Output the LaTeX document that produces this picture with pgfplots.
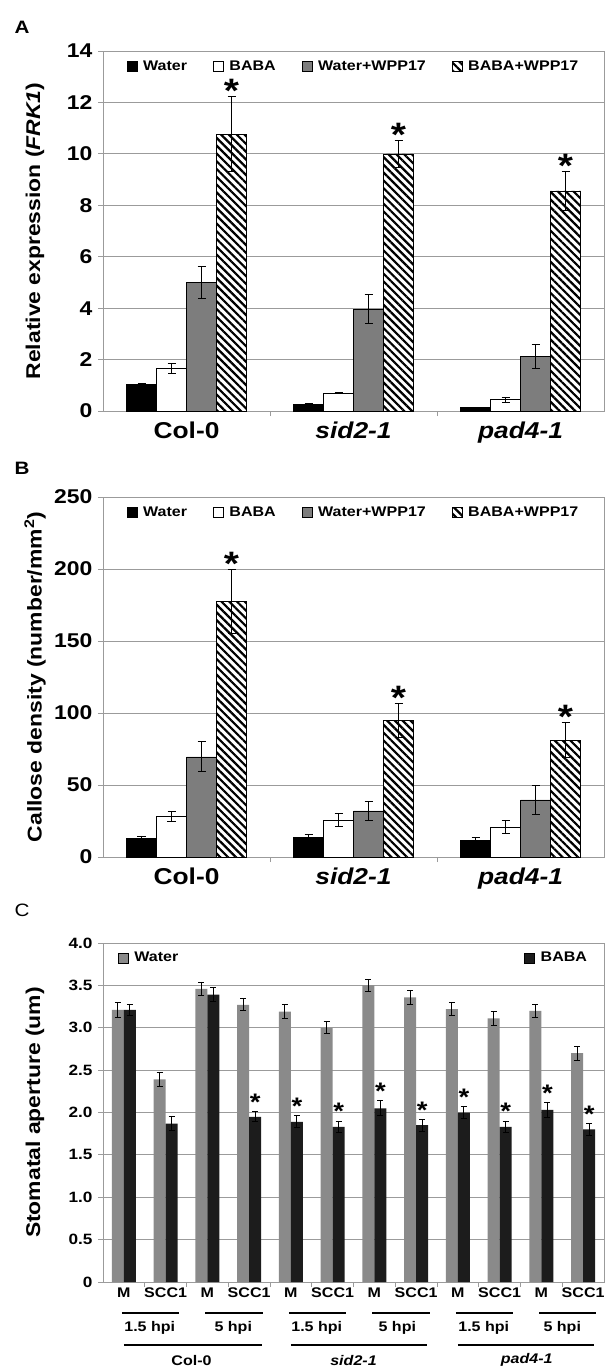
\documentclass[border=0pt]{standalone}
\usepackage{fontspec}
\setmainfont{Liberation Sans}[FakeStretch=1.15]
\usepackage{pgfplots}
\pgfplotsset{compat=1.18}
\usepackage{pgfplotstable}
\usetikzlibrary{patterns.meta}
\definecolor{gridc}{RGB}{155,155,155}
\definecolor{barg}{RGB}{125,125,125}
\definecolor{cgray}{RGB}{138,138,138}
\definecolor{cblack}{RGB}{28,28,28}
\newcommand{\fs}[1]{\fontsize{#1}{#1}\selectfont\bfseries}

\pgfplotstableread{
x water werr baba berr ww wwerr bw bwerr
0 1.03 0.03 1.65 0.20 5.00 0.63 10.77 1.45
1 0.27 0.01 0.71 0.02 3.96 0.57 10.00 0.53
2 0.14 0.01 0.44 0.10 2.12 0.47 8.56 0.75
}\dataA
\pgfplotstableread{
x water werr baba berr ww wwerr bw bwerr
0 12.8 1.8 28.0 3.5 69.6 10.5 177.4 22.0
1 13.5 2.2 25.8 4.7 32.0 6.5 94.7 12.0
2 11.6 1.9 20.9 4.5 39.7 10.3 81.2 12.0
}\dataB
\pgfplotstableread{
x water werr baba berr
0 3.21 0.09 3.21 0.07
1 2.39 0.08 1.87 0.08
2 3.46 0.08 3.39 0.08
3 3.27 0.07 1.95 0.06
4 3.19 0.08 1.89 0.07
5 3.00 0.07 1.83 0.07
6 3.50 0.07 2.05 0.09
7 3.36 0.08 1.85 0.07
8 3.22 0.08 2.00 0.07
9 3.11 0.08 1.83 0.07
10 3.20 0.08 2.03 0.09
11 2.70 0.08 1.80 0.07
}\dataC

\pgfplotsset{
  sqleg/.style={legend image code/.code={\draw[##1] (0bp,-5bp) rectangle (10bp,5bp);}},
  eb/.style={error bars/.cd, y dir=both, y explicit,
     error mark options={rotate=90, black, mark size=#1, line width=0.9bp},
     error bar style={black, line width=0.9bp}},
  base/.style={
    scale only axis, width=501bp,
    axis line style={gridc, line width=0.9bp},
    ymajorgrids, grid style={gridc, line width=0.9bp},
    tick style={gridc, line width=0.9bp},
    tick align=outside, major tick length=0pt, minor tick length=5bp,
    xtick pos=bottom, ytick pos=left,
    ybar=0pt,
    /pgf/number format/assume math mode=true,
    clip=false,
    ylabel style={at={(axis description cs:-0.1357,0.5)}, anchor=center},
  },
  abstyle/.style={base, height=360bp, bar width=30bp,
    xmin=-0.5, xmax=2.5, xtick={0,1,2},
    minor xtick={0.5,1.5},
    xticklabels={Col-0,\textit{sid2-1},\textit{pad4-1}},
    xticklabel style={font=\fs{23}, yshift=-7bp},
    yticklabel style={font=\fs{20}, xshift=-7bp},
    ylabel style={font=\fs{20}},
    legend style={at={(0.5,0.985)}, anchor=north, draw=none, fill=none,
      legend columns=4, font=\fs{14},
      /tikz/every odd column/.append style={column sep=4bp},
      /tikz/every even column/.append style={column sep=24bp}},
  },
}

\begin{document}
\begin{tikzpicture}
\path[use as bounding box] (0,0) rectangle (615bp,-1368bp);
\node[font=\fs{18}] at (22bp,-27bp) {A};
\node[font=\fs{18}] at (22bp,-468bp) {B};
\node[font=\fontsize{18}{18}\selectfont] at (22bp,-910bp) {C};

% ---------- A ----------
\begin{axis}[abstyle, at={(103bp,-411bp)}, anchor=south west,
  ymin=0, ymax=14, ytick={0,2,...,14}, minor ytick={0,2,...,14},
  ylabel={Relative expression (\textit{FRK1})}]
\addplot[fill=black, draw=black, sqleg, eb=4bp] table[x=x, y=water, y error=werr]{\dataA};
\addplot[fill=white, draw=black, sqleg, eb=4bp] table[x=x, y=baba, y error=berr]{\dataA};
\addplot[fill=barg, draw=black, sqleg, eb=4bp] table[x=x, y=ww, y error=wwerr]{\dataA};
\addplot[preaction={fill=white}, pattern={Lines[angle=-45,distance=5.5bp,line width=2.2bp]}, draw=black, sqleg, eb=4bp] table[x=x, y=bw, y error=bwerr]{\dataA};
\legend{Water, BABA, Water+WPP17, BABA+WPP17}
\node[font=\fs{34}, anchor=base, yshift=-6bp] at ([xshift=45bp]axis cs:0,12.22) {*};
\node[font=\fs{34}, anchor=base, yshift=-6bp] at ([xshift=45bp]axis cs:1,10.53) {*};
\node[font=\fs{34}, anchor=base, yshift=-6bp] at ([xshift=45bp]axis cs:2,9.31) {*};
\end{axis}

% ---------- B ----------
\begin{axis}[abstyle, at={(103bp,-857bp)}, anchor=south west,
  ymin=0, ymax=250, ytick={0,50,...,250}, minor ytick={0,50,...,250},
  ylabel={Callose density (number/mm\textsuperscript{2})}]
\addplot[fill=black, draw=black, sqleg, eb=4bp] table[x=x, y=water, y error=werr]{\dataB};
\addplot[fill=white, draw=black, sqleg, eb=4bp] table[x=x, y=baba, y error=berr]{\dataB};
\addplot[fill=barg, draw=black, sqleg, eb=4bp] table[x=x, y=ww, y error=wwerr]{\dataB};
\addplot[preaction={fill=white}, pattern={Lines[angle=-45,distance=5.5bp,line width=2.2bp]}, draw=black, sqleg, eb=4bp] table[x=x, y=bw, y error=bwerr]{\dataB};
\legend{Water, BABA, Water+WPP17, BABA+WPP17}
\node[font=\fs{34}, anchor=base, yshift=-6bp] at ([xshift=45bp]axis cs:0,199.4) {*};
\node[font=\fs{34}, anchor=base, yshift=-6bp] at ([xshift=45bp]axis cs:1,106.7) {*};
\node[font=\fs{34}, anchor=base, yshift=-6bp] at ([xshift=45bp]axis cs:2,93.2) {*};
\end{axis}

% ---------- C ----------
\begin{axis}[base, at={(103bp,-1282bp)}, anchor=south west, height=339bp,
  bar width=12bp, xmin=-0.5, xmax=11.5, ymin=0, ymax=4,
  xtick={0,...,11}, xticklabels={M,SCC1,M,SCC1,M,SCC1,M,SCC1,M,SCC1,M,SCC1},
  minor xtick={0.5,1.5,...,10.5},
  ytick={0,0.5,...,4}, minor ytick={0,0.5,...,4},
  yticklabels={0,0.5,1.0,1.5,2.0,2.5,3.0,3.5,4.0},
  xticklabel style={font=\fs{14}, yshift=-2bp},
  yticklabel style={font=\fs{15}, xshift=-7bp},
  ylabel style={font=\fs{20}},
  ylabel={Stomatal aperture (um)},
  legend style={at={(0.5,0.985)}, anchor=north, draw=none, fill=none,
      legend columns=2, font=\fs{14},
      /tikz/every odd column/.append style={column sep=4bp},
      /tikz/every even column/.append style={column sep=344bp}}]
\addplot[fill=cgray, draw=none, sqleg, eb=3bp] table[x=x, y=water, y error=werr]{\dataC};
\addplot[fill=cblack, draw=none, sqleg, eb=3bp] table[x=x, y=baba, y error=berr]{\dataC};
\legend{Water, BABA}
\node[font=\fs{24}, anchor=base, yshift=1bp] at ([xshift=6bp]axis cs:3,2.01) {*};
\node[font=\fs{24}, anchor=base, yshift=1bp] at ([xshift=6bp]axis cs:4,1.96) {*};
\node[font=\fs{24}, anchor=base, yshift=1bp] at ([xshift=6bp]axis cs:5,1.90) {*};
\node[font=\fs{24}, anchor=base, yshift=1bp] at ([xshift=6bp]axis cs:6,2.14) {*};
\node[font=\fs{24}, anchor=base, yshift=1bp] at ([xshift=6bp]axis cs:7,1.92) {*};
\node[font=\fs{24}, anchor=base, yshift=1bp] at ([xshift=6bp]axis cs:8,2.07) {*};
\node[font=\fs{24}, anchor=base, yshift=1bp] at ([xshift=6bp]axis cs:9,1.90) {*};
\node[font=\fs{24}, anchor=base, yshift=1bp] at ([xshift=6bp]axis cs:10,2.12) {*};
\node[font=\fs{24}, anchor=base, yshift=1bp] at ([xshift=6bp]axis cs:11,1.87) {*};
% hpi lines
\draw[black, line width=2.6bp] ([yshift=-31bp]axis cs:-0.05,0) -- ([yshift=-31bp]axis cs:1.33,0);
\draw[black, line width=2.6bp] ([yshift=-31bp]axis cs:1.95,0) -- ([yshift=-31bp]axis cs:3.33,0);
\draw[black, line width=2.6bp] ([yshift=-31bp]axis cs:3.95,0) -- ([yshift=-31bp]axis cs:5.33,0);
\draw[black, line width=2.6bp] ([yshift=-31bp]axis cs:5.95,0) -- ([yshift=-31bp]axis cs:7.33,0);
\draw[black, line width=2.6bp] ([yshift=-31bp]axis cs:7.95,0) -- ([yshift=-31bp]axis cs:9.33,0);
\draw[black, line width=2.6bp] ([yshift=-31bp]axis cs:9.95,0) -- ([yshift=-31bp]axis cs:11.30,0);
\node[font=\fs{14}] at ([yshift=-46bp]axis cs:0.62,0) {1.5 hpi};
\node[font=\fs{14}] at ([yshift=-46bp]axis cs:2.62,0) {5 hpi};
\node[font=\fs{14}] at ([yshift=-46bp]axis cs:4.62,0) {1.5 hpi};
\node[font=\fs{14}] at ([yshift=-46bp]axis cs:6.55,0) {5 hpi};
\node[font=\fs{14}] at ([yshift=-46bp]axis cs:8.62,0) {1.5 hpi};
\node[font=\fs{14}] at ([yshift=-46bp]axis cs:10.5,0) {5 hpi};
% genotype lines
\draw[black, line width=2.6bp] ([yshift=-63bp]axis cs:0.0,0) -- ([yshift=-63bp]axis cs:3.3,0);
\draw[black, line width=2.6bp] ([yshift=-63bp]axis cs:4.0,0) -- ([yshift=-63bp]axis cs:7.27,0);
\draw[black, line width=2.6bp] ([yshift=-63bp]axis cs:8.0,0) -- ([yshift=-63bp]axis cs:11.25,0);
\node[font=\fs{14}] at ([yshift=-78bp]axis cs:1.62,0) {Col-0};
\node[font=\fs{14}] at ([yshift=-78bp]axis cs:5.5,0) {\textit{sid2-1}};
\node[font=\fs{14}] at ([yshift=-78bp]axis cs:9.65,0) {\textit{pad4-1}};
\end{axis}
\end{tikzpicture}
\end{document}
